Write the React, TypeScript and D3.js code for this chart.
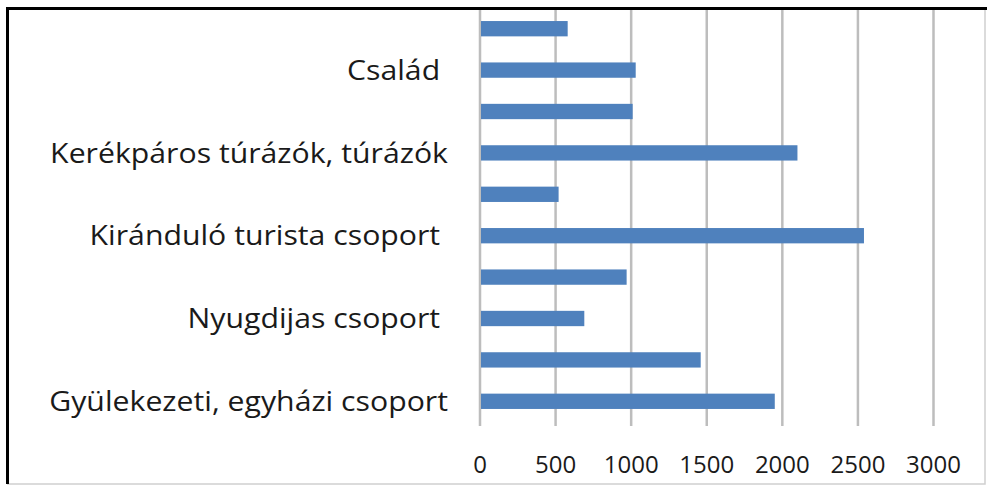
import React, { useRef, useEffect } from "react";
import * as d3 from "d3";

// categories listed bottom to top (Excel order); only every other label is shown
const categories = [
  "Gyülekezeti, egyházi csoport",
  "",
  "Nyugdijas csoport ",
  "",
  "Kiránduló turista csoport ",
  "",
  "Kerékpáros túrázók, túrázók",
  "",
  "Család ",
  "",
];
const values = [1950, 1460, 690, 970, 2540, 520, 2100, 1010, 1030, 580];
const xTicks = [0, 500, 1000, 1500, 2000, 2500, 3000];

const W = 987;
const H = 486;

const App = () => {
  const svgRef = useRef<SVGSVGElement>(null);

  useEffect(() => {
    document.body.style.margin = "0";
    const svg = d3.select(svgRef.current);
    svg.selectAll("*").remove();

    const x = d3.scaleLinear().domain([0, 3000]).range([480, 933.5]);
    const y = d3
      .scaleBand<number>()
      .domain(d3.range(categories.length))
      .range([422, 8])
      .paddingInner(0.63)
      .paddingOuter(0.315);

    svg.append("rect").attr("width", W).attr("height", H).attr("fill", "#fff");

    // vertical gridlines
    svg
      .append("g")
      .selectAll("line")
      .data(xTicks)
      .enter()
      .append("line")
      .attr("x1", (d) => x(d))
      .attr("x2", (d) => x(d))
      .attr("y1", 8)
      .attr("y2", 426)
      .attr("stroke", "#bdbdbd")
      .attr("stroke-width", 2.5);

    // bars
    svg
      .append("g")
      .selectAll("rect")
      .data(values)
      .enter()
      .append("rect")
      .attr("x", x(0) + 1)
      .attr("y", (d, i) => y(i)!)
      .attr("width", (d) => x(d) - x(0) - 1)
      .attr("height", y.bandwidth())
      .attr("fill", "#4f81bd");

    // category labels (the source picture is stretched sideways a little)
    svg
      .append("g")
      .selectAll("text")
      .data(categories)
      .enter()
      .append("text")
      .attr("transform", (d, i) => `translate(448,${y(i)! + y.bandwidth() / 2}) scale(1.12,1)`)
      .attr("dy", "0.36em")
      .attr("text-anchor", "end")
      .style("white-space", "pre")
      .style("font-family", "'Open Sans', sans-serif")
      .style("font-size", "27px")
      .attr("fill", "#1a1a1a")
      .text((d) => d);

    // value axis labels
    svg
      .append("g")
      .selectAll("text")
      .data(xTicks)
      .enter()
      .append("text")
      .attr("x", (d) => x(d))
      .attr("y", 464)
      .attr("dy", "0.36em")
      .attr("text-anchor", "middle")
      .style("font-family", "'Open Sans', sans-serif")
      .style("font-size", "24px")
      .attr("fill", "#1a1a1a")
      .text((d) => d);

    // frame
    svg
      .append("path")
      .attr("d", "M985,9 V484 H7")
      .attr("fill", "none")
      .attr("stroke", "#d0d0d0")
      .attr("stroke-width", 1.5);
    svg
      .append("path")
      .attr("d", "M7.5,484 V8.5 H987")
      .attr("fill", "none")
      .attr("stroke", "#000")
      .attr("stroke-width", 3);
  }, []);

  return <svg ref={svgRef} width={W} height={H} style={{ display: "block" }}></svg>;
};

export default App;
